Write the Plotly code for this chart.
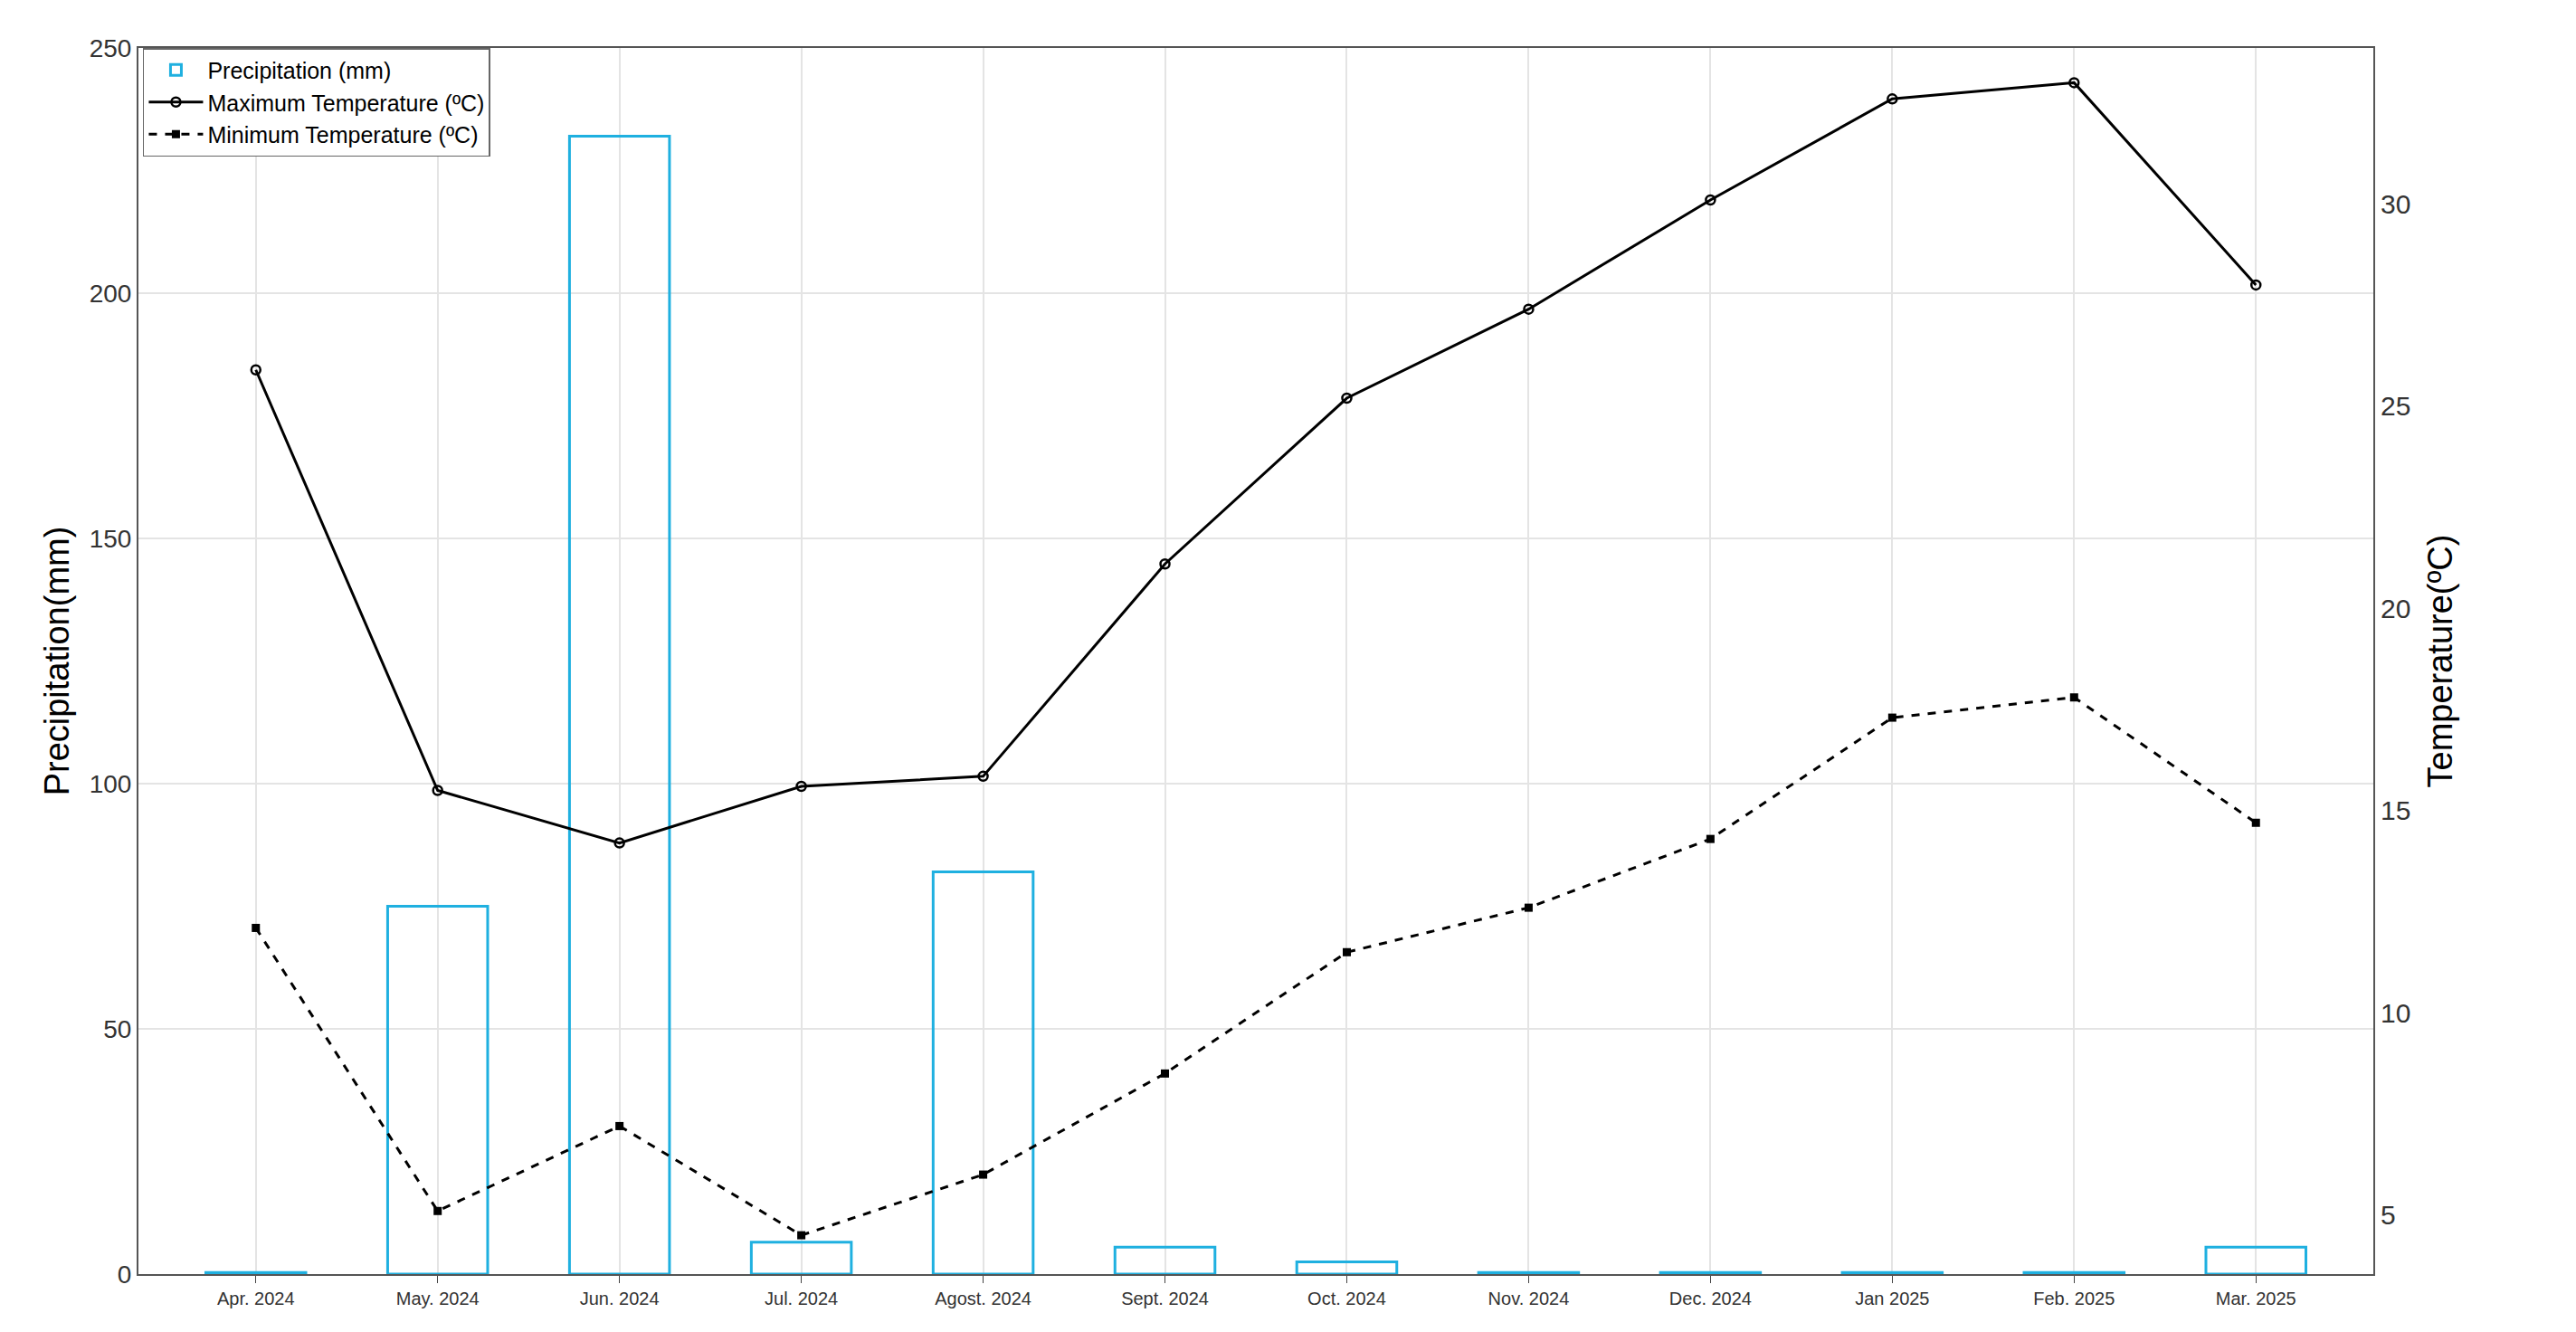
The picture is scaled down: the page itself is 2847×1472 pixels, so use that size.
import plotly.graph_objects as go

months = ["Apr. 2024","May. 2024","Jun. 2024","Jul. 2024","Agost. 2024","Sept. 2024",
          "Oct. 2024","Nov. 2024","Dec. 2024","Jan 2025","Feb. 2025","Mar. 2025"]
precip = [0.3, 75, 232, 6.5, 82, 5.5, 2.5, 0.3, 0.3, 0.3, 0.3, 5.5]
tmax = [25.9, 15.5, 14.2, 15.6, 15.85, 21.1, 25.2, 27.4, 30.1, 32.6, 33.0, 28.0]
tmin = [12.1, 5.1, 7.2, 4.5, 6.0, 8.5, 11.5, 12.6, 14.3, 17.3, 17.8, 14.7]

fig = go.Figure()
fig.add_trace(go.Bar(x=months, y=precip, name="Precipitation (mm)", width=0.55,
                     marker=dict(color="rgba(0,0,0,0)", line=dict(color="#1fb0e0", width=3))))
fig.add_trace(go.Scatter(x=months, y=tmax, name="Maximum Temperature (ºC)", yaxis="y2",
                         mode="lines+markers", line=dict(color="black", width=3),
                         marker=dict(symbol="circle-open", size=10, color="black", line=dict(width=2.5))))
fig.add_trace(go.Scatter(x=months, y=tmin, name="Minimum Temperature (ºC)", yaxis="y2",
                         mode="lines+markers", line=dict(color="black", width=3, dash="dash"),
                         marker=dict(symbol="square", size=9, color="black")))
fig.update_layout(
    width=2847, height=1472, plot_bgcolor="white", paper_bgcolor="white",
    margin=dict(l=145, r=232, t=45, b=72),
    font=dict(family="Arial, Liberation Sans", color="#333"),
    showlegend=True,
    legend=dict(x=0.002, y=1.0, xanchor="left", yanchor="top", bgcolor="white",
                bordercolor="#666", borderwidth=1.5, font=dict(size=25, color="black"),
                tracegroupgap=0, itemwidth=60),
    xaxis=dict(showgrid=True, gridcolor="#e4e4e4", gridwidth=2, tickfont=dict(size=20),
               showline=True, linecolor="#555", linewidth=2, mirror=True, ticks="outside", ticklen=8),
    yaxis=dict(range=[0, 250], dtick=50, showgrid=True, gridcolor="#e4e4e4", gridwidth=2,
               title=dict(text="Precipitation(mm)", font=dict(size=38, color="black"), standoff=10),
               tickfont=dict(size=28), showline=True, linecolor="#555", linewidth=2, zeroline=False),
    yaxis2=dict(range=[3.54, 33.86], tickvals=[5, 10, 15, 20, 25, 30], overlaying="y", side="right",
                showgrid=False, title=dict(text="Temperature(ºC)", font=dict(size=38, color="black"), standoff=20),
                tickfont=dict(size=30), showline=True, linecolor="#555", linewidth=2, zeroline=False),
    bargap=0.45,
)
fig.write_html("out.html")
